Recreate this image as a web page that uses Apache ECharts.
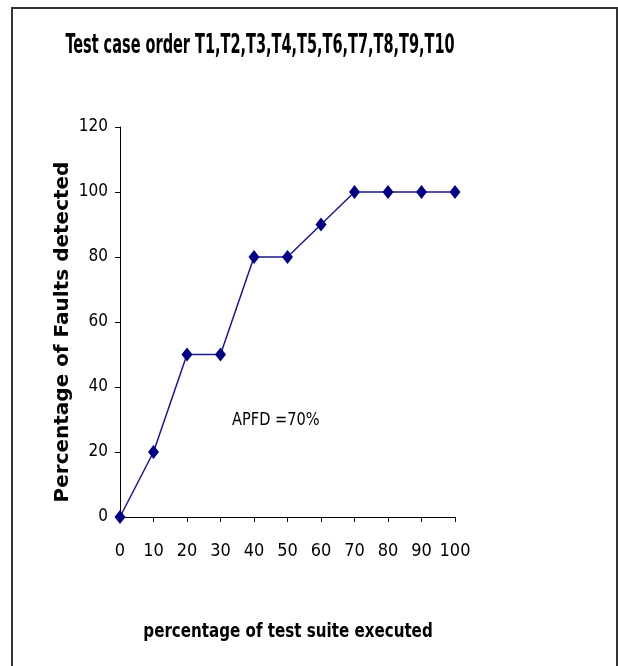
<!DOCTYPE html>
<html>
<head>
<meta charset="utf-8">
<script src="https://cdn.jsdelivr.net/npm/echarts@6/dist/echarts.min.js"></script>
<style>
html,body{margin:0;padding:0;background:#fff;}
#chart{width:618px;height:666px;}
</style>
</head>
<body>
<div id="chart"></div>
<script>
const titleText = 'Test case order T1,T2,T3,T4,T5,T6,T7,T8,T9,T10';
const xValues = [0, 10, 20, 30, 40, 50, 60, 70, 80, 90, 100];
const faultsDetected = [0, 20, 50, 50, 80, 80, 90, 100, 100, 100, 100];
const xAxisName = 'percentage of test suite executed';
const yAxisName = 'Percentage of Faults detected';
const annotation = 'APFD =70%';

const cond = '"DejaVu Sans Condensed", "Liberation Sans", sans-serif';

const chart = echarts.init(document.getElementById('chart'), null, {renderer: 'canvas'});
const option = {
  backgroundColor: '#fff',
  animation: false,
  grid: {left: 120, right: 163, top: 127, bottom: 149, containLabel: false},
  xAxis: {
    type: 'value', min: 0, max: 100, interval: 10,
    axisLine: {show: true, onZero: false, lineStyle: {color: '#000', width: 1}},
    axisTick: {show: true, length: 5, lineStyle: {color: '#000'}},
    axisLabel: {fontFamily: cond, fontSize: 18, color: '#000', margin: 25},
    splitLine: {show: false}
  },
  yAxis: {
    type: 'value', min: 0, max: 120, interval: 20,
    axisLine: {show: true, lineStyle: {color: '#000', width: 1}},
    axisTick: {show: true, length: 5, lineStyle: {color: '#000'}},
    axisLabel: {fontFamily: cond, fontSize: 17, color: '#000', margin: 12},
    splitLine: {show: false}
  },
  series: [{
    type: 'line',
    data: xValues.map((x, i) => [x, faultsDetected[i]]),
    symbol: 'diamond', symbolSize: [11, 14],
    itemStyle: {color: '#000080'},
    lineStyle: {color: '#1a1a88', width: 1.5},
    clip: false
  }],
  graphic: [
    {type: 'rect', shape: {x: 12, y: 8, width: 605, height: 680}, style: {fill: 'none', stroke: '#333', lineWidth: 2}, z: -1},
    {type: 'text', x: 260, y: 46, scaleX: 0.62,
      style: {text: titleText, font: 'bold 26px ' + cond, fill: '#000', align: 'center', verticalAlign: 'middle'}},
    {type: 'text', x: 288, y: 632, scaleX: 0.84,
      style: {text: xAxisName, font: 'bold 20px ' + cond, fill: '#000', align: 'center', verticalAlign: 'middle'}},
    {type: 'text', x: 63, y: 332, rotation: Math.PI / 2,
      style: {text: yAxisName, font: 'bold 20px "DejaVu Sans", sans-serif', fill: '#000', align: 'center', verticalAlign: 'middle'}},
    {type: 'text', x: 232, y: 420, scaleX: 0.9,
      style: {text: annotation, font: '18px ' + cond, fill: '#000', align: 'left', verticalAlign: 'middle'}}
  ]
};
chart.setOption(option);
</script>
</body>
</html>
